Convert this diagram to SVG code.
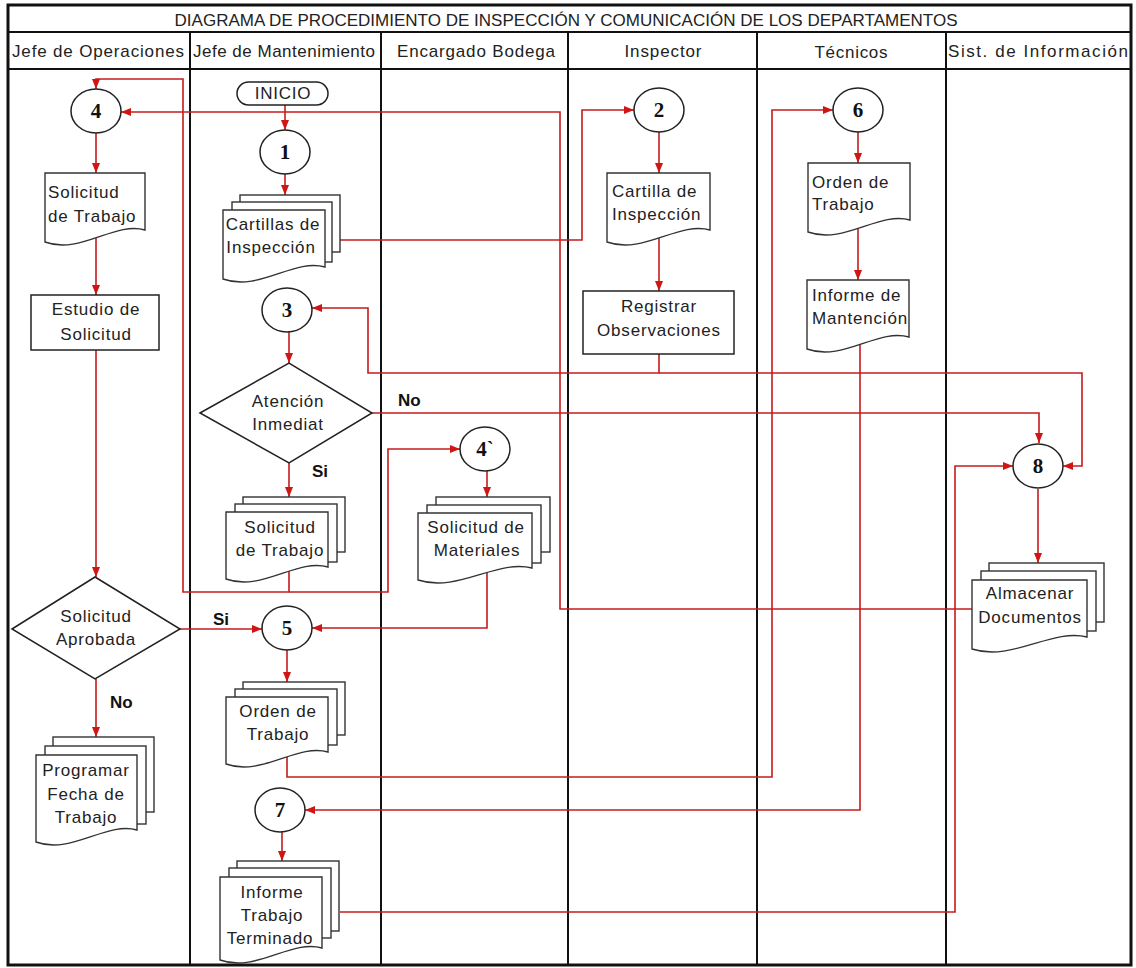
<svg xmlns="http://www.w3.org/2000/svg" width="1136" height="968" viewBox="0 0 1136 968">
<defs>
<style>
.frame{fill:none;stroke:#111;stroke-width:3}
.grid{stroke:#111;stroke-width:2;fill:none}
.sh{fill:#fff;stroke:#222;stroke-width:1.5}
.doc{fill:#fff;stroke:#333;stroke-width:1.4}
.cn{fill:none;stroke:#c41c1c;stroke-width:1.6}
.ar{marker-end:url(#ah)}
.t{font-family:"Liberation Sans",Arial,sans-serif;font-size:17px;letter-spacing:0.8px;fill:#222}
.m{text-anchor:middle}
.h{font-family:"Liberation Sans",Arial,sans-serif;font-size:17px;fill:#222;text-anchor:middle}
.n{font-family:"Liberation Serif","Times New Roman",serif;font-weight:bold;font-size:21px;fill:#111;text-anchor:middle}
.b{font-family:"Liberation Sans",Arial,sans-serif;font-weight:bold;font-size:17px;fill:#111}
</style>
<marker id="ah" viewBox="0 0 10 8" refX="10" refY="4" markerWidth="10" markerHeight="8" markerUnits="userSpaceOnUse" orient="auto">
<path d="M0,0 L10,4 L0,8 z" fill="#d01515"/>
</marker>
</defs>
<rect width="1136" height="968" fill="#fff"/>

<g id="frame">
<rect class="frame" x="8" y="5" width="1123" height="960"/>
<line class="grid" x1="8" y1="32" x2="1131" y2="32"/>
<line class="grid" x1="8" y1="69" x2="1131" y2="69"/>
<line class="grid" x1="190" y1="32" x2="190" y2="965"/>
<line class="grid" x1="381" y1="32" x2="381" y2="965"/>
<line class="grid" x1="568" y1="32" x2="568" y2="965"/>
<line class="grid" x1="757" y1="32" x2="757" y2="965"/>
<line class="grid" x1="946" y1="32" x2="946" y2="965"/>
<text class="h" x="566" y="26" textLength="783" lengthAdjust="spacing">DIAGRAMA DE PROCEDIMIENTO DE INSPECCIÓN Y COMUNICACIÓN DE LOS DEPARTAMENTOS</text>
<text class="h" x="98" y="57" textLength="172" lengthAdjust="spacing">Jefe de Operaciones</text>
<text class="h" x="284" y="57" textLength="182" lengthAdjust="spacing">Jefe de Mantenimiento</text>
<text class="h" x="476" y="57" textLength="158" lengthAdjust="spacing">Encargado Bodega</text>
<text class="h" x="663" y="57" textLength="77" lengthAdjust="spacing">Inspector</text>
<text class="h" x="851" y="58" textLength="73" lengthAdjust="spacing">Técnicos</text>
<text class="h" x="1038" y="57" textLength="180" lengthAdjust="spacing">Sist. de Información</text>
</g>

<g id="connectors">
<path class="cn ar" d="M285,105 V130"/>
<path class="cn ar" d="M285,174 V195"/>
<path class="cn ar" d="M340,240 H582 V110 H634"/>
<path class="cn ar" d="M659,132 V173"/>
<path class="cn ar" d="M659,237 V291"/>
<path class="cn ar" d="M659,354 V373 H368 V308 H312"/>
<path class="cn ar" d="M659,373 H1082 V466 H1063"/>
<path class="cn ar" d="M289,332 V363"/>
<path class="cn ar" d="M372,413 H1039 V443"/>
<path class="cn ar" d="M289,463 V497"/>
<path class="cn ar" d="M289,571 V592 H183 V79 H96 V89"/>
<path class="cn ar" d="M289,592 H388 V449 H460"/>
<path class="cn ar" d="M96,133 V173"/>
<path class="cn ar" d="M96,238 V295"/>
<path class="cn ar" d="M96,350 V577"/>
<path class="cn ar" d="M180,629 H262"/>
<path class="cn ar" d="M96,679 V737"/>
<path class="cn ar" d="M487,471 V497"/>
<path class="cn ar" d="M487,572 V628 H312"/>
<path class="cn ar" d="M287,650 V682"/>
<path class="cn ar" d="M287,756 V777 H772 V110 H833"/>
<path class="cn ar" d="M858,132 V163"/>
<path class="cn ar" d="M858,227 V280"/>
<path class="cn ar" d="M860,344 V810 H305"/>
<path class="cn ar" d="M282,832 V861"/>
<path class="cn ar" d="M340,912 H955 V466 H1013"/>
<path class="cn ar" d="M1038,489 V563"/>
<path class="cn ar" d="M972,609 H560 V112 H121"/>
<text class="b" x="398" y="406">No</text>
<text class="b" x="312" y="477">Si</text>
<text class="b" x="213" y="625">Si</text>
<text class="b" x="110" y="708">No</text>
</g>

<!-- Jefe de Operaciones -->
<g id="c4">
<ellipse class="sh" cx="96" cy="111" rx="25" ry="22"/>
<text class="n" x="96" y="118">4</text>
</g>
<g id="solicitud-op">
<path class="doc" d="M45,173 H145 V230 C115,221 80,255 45,242 Z"/>
<text class="t" x="48" y="198">Solicitud</text>
<text class="t" x="48" y="222">de Trabajo</text>
</g>
<g id="estudio">
<rect class="sh" x="31" y="295" width="128" height="55"/>
<text class="t m" x="96" y="315">Estudio de</text>
<text class="t m" x="96" y="340">Solicitud</text>
</g>
<g id="aprobada">
<path class="sh" d="M12,629 L95,577 L180,629 L95,679 Z"/>
<text class="t m" x="96" y="622">Solicitud</text>
<text class="t m" x="96" y="645">Aprobada</text>
</g>
<g id="programar">
<rect class="doc" x="53" y="737" width="101" height="75"/>
<rect class="doc" x="45" y="746" width="101" height="78"/>
<path class="doc" d="M36,755 H137 V830 C107,821 71,855 36,842 Z"/>
<text class="t m" x="86" y="776">Programar</text>
<text class="t m" x="86" y="800">Fecha de</text>
<text class="t m" x="86" y="823">Trabajo</text>
</g>

<!-- Jefe de Mantenimiento -->
<g id="inicio">
<rect class="sh" x="237" y="82" width="91" height="23" rx="11.5"/>
<text class="t m" x="283" y="99">INICIO</text>
</g>
<g id="c1">
<ellipse class="sh" cx="285" cy="152" rx="25" ry="22"/>
<text class="n" x="285" y="159">1</text>
</g>
<g id="cartillas">
<rect class="doc" x="240" y="195" width="100" height="57"/>
<rect class="doc" x="232" y="202" width="100" height="60"/>
<path class="doc" d="M223,210 H325 V267 C294,258 259,292 223,279 Z"/>
<text class="t m" x="273" y="230">Cartillas de</text>
<text class="t m" x="271" y="253">Inspección</text>
</g>
<g id="c3">
<ellipse class="sh" cx="287" cy="310" rx="25" ry="22"/>
<text class="n" x="287" y="317">3</text>
</g>
<g id="atencion">
<path class="sh" d="M200,413 L289,363 L372,413 L289,463 Z"/>
<text class="t m" x="288" y="407">Atención</text>
<text class="t m" x="288" y="430">Inmediat</text>
</g>
<g id="solicitud-mant">
<rect class="doc" x="243" y="497" width="102" height="55"/>
<rect class="doc" x="235" y="504" width="102" height="58"/>
<path class="doc" d="M226,512 H328 V567 C297,558 262,592 226,579 Z"/>
<text class="t m" x="280" y="533">Solicitud</text>
<text class="t m" x="280" y="556">de Trabajo</text>
</g>
<g id="c5">
<ellipse class="sh" cx="287" cy="628" rx="25" ry="22"/>
<text class="n" x="287" y="635">5</text>
</g>
<g id="orden-mant">
<rect class="doc" x="243" y="682" width="102" height="53"/>
<rect class="doc" x="235" y="689" width="102" height="56"/>
<path class="doc" d="M226,697 H328 V752 C297,743 262,777 226,764 Z"/>
<text class="t m" x="278" y="717">Orden de</text>
<text class="t m" x="278" y="740">Trabajo</text>
</g>
<g id="c7">
<ellipse class="sh" cx="280" cy="810" rx="25" ry="22"/>
<text class="n" x="280" y="817">7</text>
</g>
<g id="informe-tt">
<rect class="doc" x="237" y="861" width="102" height="70"/>
<rect class="doc" x="229" y="868" width="102" height="70"/>
<path class="doc" d="M220,877 H322 V948 C291,939 256,973 220,960 Z"/>
<text class="t m" x="272" y="898">Informe</text>
<text class="t m" x="272" y="921">Trabajo</text>
<text class="t m" x="270" y="944">Terminado</text>
</g>

<!-- Encargado Bodega -->
<g id="c4b">
<ellipse class="sh" cx="485" cy="449" rx="25" ry="22"/>
<text class="n" x="485" y="456">4`</text>
</g>
<g id="materiales">
<rect class="doc" x="436" y="497" width="114" height="55"/>
<rect class="doc" x="427" y="505" width="114" height="58"/>
<path class="doc" d="M418,513 H532 V568 C497,559 458,593 418,580 Z"/>
<text class="t m" x="476" y="533">Solicitud de</text>
<text class="t m" x="477" y="556">Materiales</text>
</g>

<!-- Inspector -->
<g id="c2">
<ellipse class="sh" cx="659" cy="110" rx="25" ry="22"/>
<text class="n" x="659" y="117">2</text>
</g>
<g id="cartilla">
<path class="doc" d="M607,173 H710 V230 C679,221 643,255 607,242 Z"/>
<text class="t" x="612" y="197">Cartilla de</text>
<text class="t" x="612" y="220">Inspección</text>
</g>
<g id="registrar">
<rect class="sh" x="583" y="291" width="151" height="63"/>
<text class="t m" x="659" y="312">Registrar</text>
<text class="t m" x="659" y="336">Observaciones</text>
</g>

<!-- Tecnicos -->
<g id="c6">
<ellipse class="sh" cx="858" cy="110" rx="25" ry="22"/>
<text class="n" x="858" y="117">6</text>
</g>
<g id="orden-tec">
<path class="doc" d="M808,163 H910 V220 C879,211 844,245 808,232 Z"/>
<text class="t" x="812" y="188">Orden de</text>
<text class="t" x="812" y="210">Trabajo</text>
</g>
<g id="informe-mant">
<path class="doc" d="M807,280 H909 V337 C878,328 843,362 807,349 Z"/>
<text class="t" x="812" y="301">Informe de</text>
<text class="t" x="812" y="324">Mantención</text>
</g>

<!-- Sist. de Informacion -->
<g id="c8">
<ellipse class="sh" cx="1038" cy="466" rx="25" ry="22"/>
<text class="n" x="1038" y="473">8</text>
</g>
<g id="almacenar">
<rect class="doc" x="989" y="563" width="115" height="59"/>
<rect class="doc" x="981" y="571" width="115" height="60"/>
<path class="doc" d="M972,580 H1087 V637 C1052,628 1012,662 972,649 Z"/>
<text class="t m" x="1030" y="599">Almacenar</text>
<text class="t m" x="1030" y="623">Documentos</text>
</g>
</svg>
